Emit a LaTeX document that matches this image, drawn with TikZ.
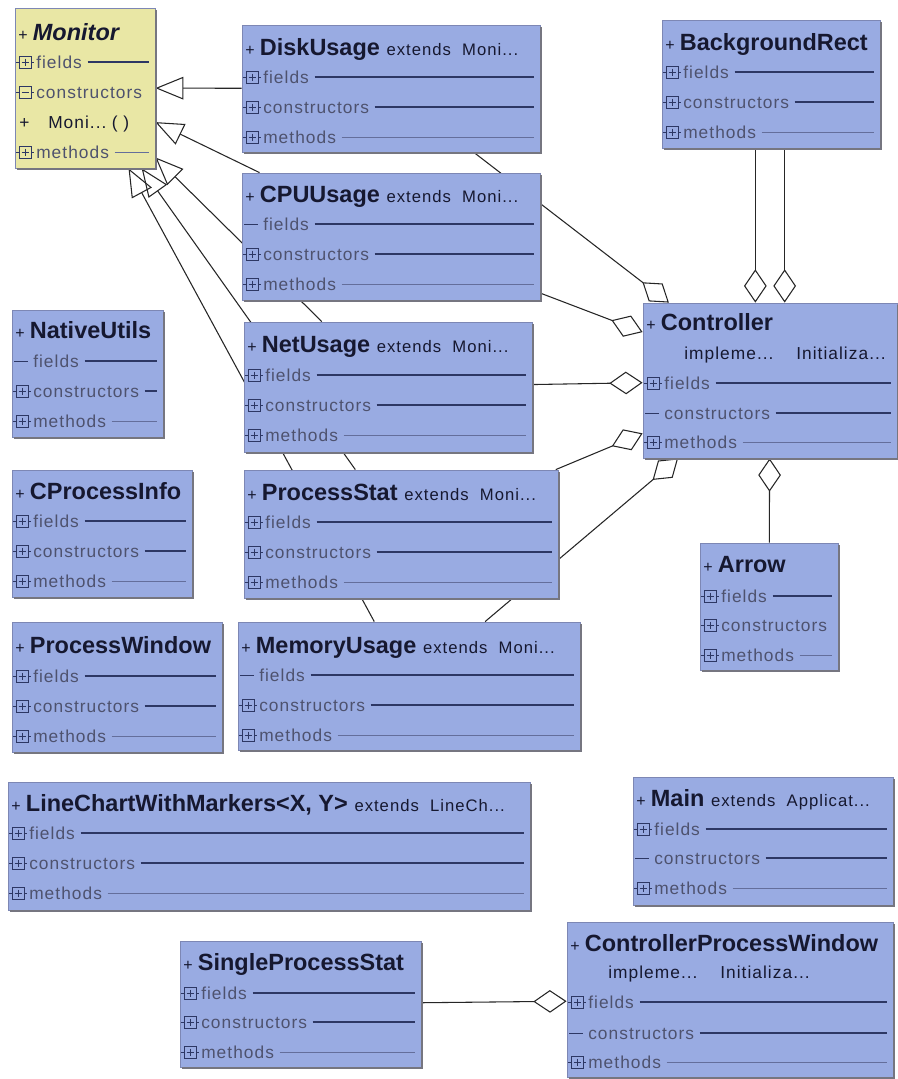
\documentclass[tikz,border=0pt]{standalone}
\usepackage{fontspec}
\setmainfont{Liberation Sans}
\newfontfamily\rowfont[LetterSpace=6]{Liberation Sans}
\usetikzlibrary{arrows.meta,fit}
\pgfdeclarelayer{back}
\pgfsetlayers{back,main}

\definecolor{clsfill}{RGB}{153,171,226}
\definecolor{monfill}{RGB}{233,231,165}
\definecolor{clsedge}{RGB}{125,135,180}
\definecolor{shadegray}{RGB}{118,118,128}
\definecolor{titletext}{RGB}{22,24,48}
\definecolor{rowtext}{RGB}{78,82,110}
\definecolor{rowdark}{RGB}{45,55,100}
\definecolor{rowlight}{RGB}{100,110,155}

\tikzset{
  cls/.style={inner sep=0pt, draw=clsedge, line width=0.6pt},
  clsshadow/.style={draw=shadegray, line width=1.5pt},
  ttl/.style={anchor=west, inner sep=0pt, text height=12.6pt, text depth=0pt, text=titletext, font=\fontsize{17.6}{20}\selectfont\bfseries},
  rowtxt/.style={anchor=west, inner sep=0pt, text height=9.2pt, text depth=0pt, text=rowtext, font=\rowfont\fontsize{13}{15}\selectfont},
  rowline/.style={draw=rowdark, line width=0.8pt},
  rowlinel/.style={draw=rowlight, line width=0.6pt},
  iconline/.style={draw=rowdark, line width=0.7pt},
  gen/.style={draw=black!85, line width=0.8pt, -{Triangle[open,length=21pt,width=17pt]}},
  agg/.style={draw=black!85, line width=0.8pt, {Diamond[open,length=25pt,width=17pt]}-},
}

% class box: [fill] name, x1, y1, x2, y2
\newcommand{\clsbox}[6][clsfill]{%
  \node[cls, fill=#1, fit={(#3,#4) (#5,#6)}] (#2) {};
  \draw[clsshadow] (#5+1,#4+2) -- (#5+1,#6+1) -- (#3+2,#6+1);
}
% expander icon at (x,y), 1 = plus, 0 = minus
\newcommand{\xicon}[3]{%
  \draw[iconline] (#1-9,#2) -- (#1-6,#2) (#1+6,#2) -- (#1+9,#2);
  \draw[iconline] (#1-6,#2-6) rectangle (#1+6,#2+6);
  \draw[iconline] (#1-3.5,#2) -- (#1+3.5,#2);
  \ifnum#3=1 \draw[iconline] (#1,#2-3.5) -- (#1,#2+3.5);\fi
}
% compartment row: [line] x1, x2, y, label, icon (1 plus, 0 minus, 2 dash)
\newcommand{\crow}[6][rowline]{%
  \ifnum#6=2
    \draw[iconline] (#2+2,#4) -- (#2+16,#4);
  \else
    \xicon{#2+10}{#4}{#6}%
  \fi
  \node[rowtxt] (rowlabel) at (#2+21,#4) {#5};
  \draw[#1] ([xshift=4pt]rowlabel.east) -- (#3-6,#4);
}
\newcommand{\pl}{{\rowfont\mdseries\fontsize{12}{14}\selectfont+}\hspace{4pt}}
\newcommand{\ext}[1]{\hspace{5pt}{\rowfont\mdseries\fontsize{12.5}{14}\selectfont #1}}

\begin{document}
\begin{tikzpicture}[x=0.75pt,y=0.75pt,yscale=-1,xscale=1]
\useasboundingbox (0,0) rectangle (898,1079);

% Monitor
\clsbox[monfill]{mon}{15}{8}{155}{168}
\node[ttl] (tmon) at (18,32) {\pl\itshape Monitor};
\crow{15}{155}{62}{fields}{1}
\crow[draw=none]{15}{155}{92}{constructors}{0}
\node[rowtxt,text=titletext] (monplus) at (19,122) {+};
\node[rowtxt,text=titletext] (monctor) at (48,122) {Moni...\hspace{4pt}( )};
\crow[rowlinel]{15}{155}{152}{methods}{1}

% subclasses
\clsbox{disk}{242}{25}{540}{152}
\node[ttl] (tdisk) at (245,47) {\pl DiskUsage\ext{extends\ \ Moni...}};
\crow{242}{540}{77}{fields}{1}
\crow{242}{540}{107}{constructors}{1}
\crow[rowlinel]{242}{540}{137}{methods}{1}

\clsbox{cpu}{242}{173}{540}{300}
\node[ttl] (tcpu) at (245,194) {\pl CPUUsage\ext{extends\ \ Moni...}};
\crow{242}{540}{224}{fields}{2}
\crow{242}{540}{254}{constructors}{1}
\crow[rowlinel]{242}{540}{284}{methods}{1}

\clsbox{net}{244}{322}{532}{452}
\node[ttl] (tnet) at (247,344) {\pl NetUsage\ext{extends\ \ Moni...}};
\crow{244}{532}{375}{fields}{1}
\crow{244}{532}{405}{constructors}{1}
\crow[rowlinel]{244}{532}{435}{methods}{1}

\clsbox{pstat}{244}{470}{558}{598}
\node[ttl] (tpstat) at (247,492) {\pl ProcessStat\ext{extends\ \ Moni...}};
\crow{244}{558}{522}{fields}{1}
\crow{244}{558}{552}{constructors}{1}
\crow[rowlinel]{244}{558}{582}{methods}{1}

\clsbox{mem}{238}{622}{580}{750}
\node[ttl] (tmem) at (241,645) {\pl MemoryUsage\ext{extends\ \ Moni...}};
\crow{238}{580}{675}{fields}{2}
\crow{238}{580}{705}{constructors}{1}
\crow[rowlinel]{238}{580}{735}{methods}{1}

% left column
\clsbox{native}{12}{310}{163}{437}
\node[ttl] (tnative) at (15,330) {\pl NativeUtils};
\crow{12}{163}{361}{fields}{2}
\crow{12}{163}{391}{constructors}{1}
\crow[rowlinel]{12}{163}{421}{methods}{1}

\clsbox{cproc}{12}{470}{192}{597}
\node[ttl] (tcproc) at (15,491) {\pl CProcessInfo};
\crow{12}{192}{521}{fields}{1}
\crow{12}{192}{551}{constructors}{1}
\crow[rowlinel]{12}{192}{581}{methods}{1}

\clsbox{pwin}{12}{622}{222}{752}
\node[ttl] (tpwin) at (15,645) {\pl ProcessWindow};
\crow{12}{222}{676}{fields}{1}
\crow{12}{222}{706}{constructors}{1}
\crow[rowlinel]{12}{222}{736}{methods}{1}

% right column
\clsbox{bgr}{662}{20}{880}{148}
\node[ttl] (tbgr) at (665,42) {\pl BackgroundRect};
\crow{662}{880}{72}{fields}{1}
\crow{662}{880}{102}{constructors}{1}
\crow[rowlinel]{662}{880}{132}{methods}{1}

\clsbox{ctrl}{643}{303}{897}{458}
\node[ttl] (tctrl) at (646,322) {\pl Controller};
\node[rowtxt,text=titletext] (ctrlimpl) at (684,353) {impleme...};
\node[rowtxt,text=titletext] (ctrlinit) at (796,353) {Initializa...};
\crow{643}{897}{383}{fields}{1}
\crow{643}{897}{413}{constructors}{2}
\crow[rowlinel]{643}{897}{442}{methods}{1}

\clsbox{arrow}{700}{543}{838}{670}
\node[ttl] (tarrow) at (703,564) {\pl Arrow};
\crow{700}{838}{596}{fields}{1}
\crow[draw=none]{700}{838}{625}{constructors}{1}
\crow[rowlinel]{700}{838}{655}{methods}{1}

% bottom
\clsbox{chart}{8}{782}{530}{910}
\node[ttl] (tchart) at (11,803) {\pl LineChartWithMarkers<X, Y>\ext{extends\ \ LineCh...}};
\crow{8}{530}{833}{fields}{1}
\crow{8}{530}{863}{constructors}{1}
\crow[rowlinel]{8}{530}{893}{methods}{1}

\clsbox{main}{633}{777}{893}{905}
\node[ttl] (tmain) at (636,798) {\pl Main\ext{extends\ \ Applicat...}};
\crow{633}{893}{829}{fields}{1}
\crow{633}{893}{858}{constructors}{2}
\crow[rowlinel]{633}{893}{888}{methods}{1}

\clsbox{sps}{180}{941}{421}{1067}
\node[ttl] (tsps) at (183,962) {\pl SingleProcessStat};
\crow{180}{421}{993}{fields}{1}
\crow{180}{421}{1022}{constructors}{1}
\crow[rowlinel]{180}{421}{1052}{methods}{1}

\clsbox{cpw}{567}{922}{893}{1077}
\node[ttl] (tcpw) at (570,943) {\pl ControllerProcessWindow};
\node[rowtxt,text=titletext] (cpwimpl) at (608,972) {impleme...};
\node[rowtxt,text=titletext] (cpwinit) at (720,972) {Initializa...};
\crow{567}{893}{1002}{fields}{1}
\crow{567}{893}{1033}{constructors}{2}
\crow[rowlinel]{567}{893}{1062}{methods}{1}

\begin{pgfonlayer}{back}
\draw[gen] (disk) -- (mon);
\draw[gen] (cpu) -- (mon);
\draw[gen] (net) -- (mon);
\draw[gen] (pstat) -- (mon);
\draw[gen] (mem) -- (mon);
\draw[agg] (ctrl) -- (disk);
\draw[agg] (ctrl) -- (cpu);
\draw[agg] (ctrl) -- (net);
\draw[agg] (ctrl) -- (pstat);
\draw[agg] (ctrl) -- (mem);
\draw[agg] ([xshift=-11pt]ctrl.north) -- ([xshift=-11pt]ctrl.north |- bgr.south);
\draw[agg] ([xshift=11pt]ctrl.north) -- ([xshift=11pt]ctrl.north |- bgr.south);
\draw[agg] (ctrl) -- (arrow);
\draw[agg] (cpw) -- (sps);
\end{pgfonlayer}
\end{tikzpicture}
\end{document}
